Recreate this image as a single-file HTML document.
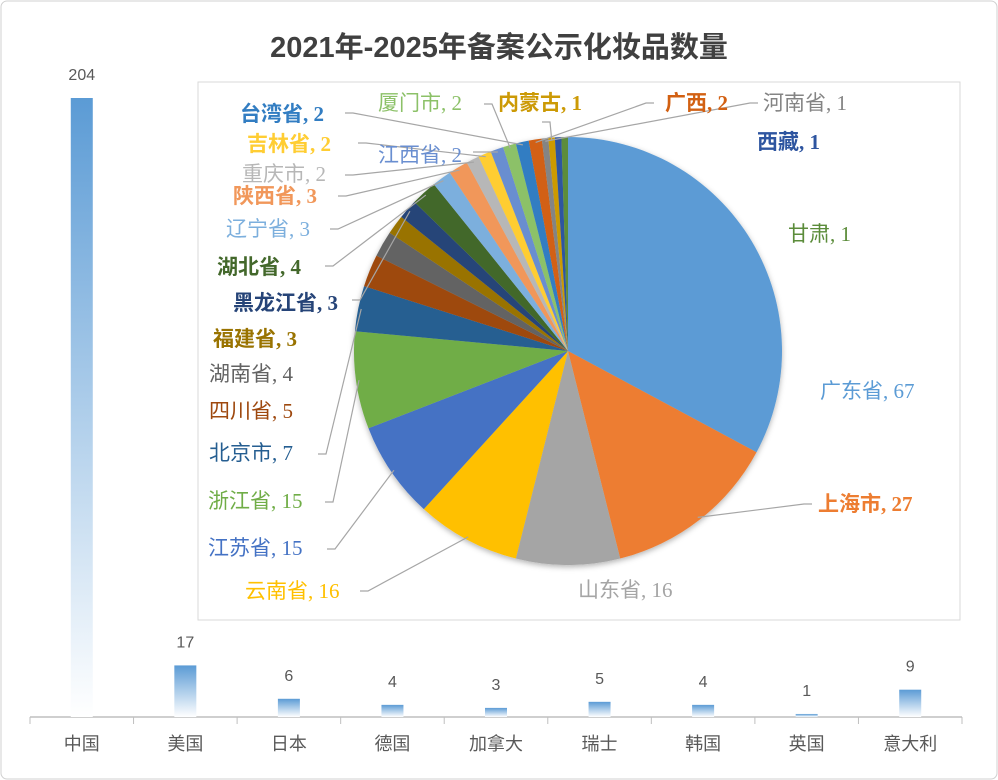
<!DOCTYPE html>
<html><head><meta charset="utf-8"><style>
body{margin:0;background:#fff;width:998px;height:780px;overflow:hidden}
svg{display:block}
text{font-family:"Liberation Serif","Noto Sans CJK SC",serif}
.cat{font-family:"Liberation Sans","Noto Sans CJK SC",sans-serif;font-size:18px;fill:#595959}
.val{font-family:"Liberation Sans","Noto Sans CJK SC",sans-serif;font-size:16px;fill:#595959}
</style></head><body>
<svg id="chart" width="998" height="780" xmlns="http://www.w3.org/2000/svg">
<defs>
<linearGradient id="bg" x1="0" y1="0" x2="0" y2="1"><stop offset="0" stop-color="#5B9BD5"/><stop offset="1" stop-color="#ffffff"/></linearGradient>
<filter id="sh" x="-10%" y="-10%" width="120%" height="120%"><feDropShadow dx="0" dy="2" stdDeviation="3" flood-color="#000" flood-opacity="0.3"/></filter>
</defs>
<rect x="1" y="1" width="996" height="778" rx="6" fill="#fff" stroke="#d0d0d0"/>
<text x="499" y="57" text-anchor="middle" style="font-family:'Liberation Sans','Noto Sans CJK SC',sans-serif;font-size:29px;font-weight:bold;fill:#404040">2021年-2025年备案公示化妆品数量</text>
<rect x="198" y="82" width="762" height="538" fill="#fff" stroke="#d9d9d9"/>
<g id="bars"></g>
<g id="pie" filter="url(#sh)"></g>
<g id="leaders"></g>
<g id="plabels"></g>
</svg>
<script>
const countries=["中国","美国","日本","德国","加拿大","瑞士","韩国","英国","意大利"];
const countryValues=[204,17,6,4,3,5,4,1,9];
const regions=["广东省","上海市","山东省","云南省","江苏省","浙江省","北京市","四川省","湖南省","福建省","黑龙江省","湖北省","辽宁省","陕西省","重庆市","吉林省","江西省","厦门市","台湾省","广西","河南省","内蒙古","西藏","甘肃"];
const regionValues=[67,27,16,16,15,15,7,5,4,3,3,4,3,3,2,2,2,2,2,2,1,1,1,1];
const colors=["#5B9BD5","#ED7D31","#A5A5A5","#FFC000","#4472C4","#70AD47","#255E91","#9E480E","#636363","#997300","#264478","#43682B","#7CAFDD","#F1975A","#B7B7B7","#FFCD33","#698ED0","#8CC168","#327DC2","#D26012","#848484","#CC9A06","#2E55A0","#5B8C3A"];
const NS="http://www.w3.org/2000/svg";
function mk(t,a,p){const e=document.createElementNS(NS,t);for(const k in a)e.setAttribute(k,a[k]);p.appendChild(e);return e;}
const x0=30,x1=962,axisY=717,pxPer=619/204;
const bw=(x1-x0)/countries.length;
const xs=i=>x0+bw*(i+0.5);
const ys=v=>axisY-v*pxPer;
const bars=document.getElementById('bars');
const ax=mk('line',{x1:x0,x2:x1,y1:axisY,y2:axisY,stroke:'#bfbfbf','stroke-width':1.5},bars);


for(let i=0;i<=countries.length;i++){const t=mk('line',{x1:x0+bw*i,x2:x0+bw*i,y1:axisY,y2:axisY+7,stroke:'#bfbfbf'},bars);

}
countries.forEach((c,i)=>{
 const v=countryValues[i];
 const r=mk('rect',{x:xs(i)-11,y:ys(v),width:22,height:axisY-ys(v),fill:'url(#bg)'},bars);
 
 
 const l=mk('text',{x:xs(i),y:ys(v)-18,'text-anchor':'middle',class:'val'},bars);l.textContent=v;
 
 
 const cl=mk('text',{x:xs(i),y:750,'text-anchor':'middle',class:'cat'},bars);cl.textContent=c;
 
 
});
const cx=568,cy=351,R=214;
const total=regionValues.reduce((a,b)=>a+b,0);
const pie=document.getElementById('pie');
const mids=[];
let a=0;
regionValues.forEach((v,i)=>{
 const a0=a,a1=a+v/total*2*Math.PI;a=a1;mids.push((a0+a1)/2);
 const p=(t)=>[cx+R*Math.sin(t),cy-R*Math.cos(t)];
 const [sx,sy]=p(a0),[ex,ey]=p(a1);
 const s=mk('path',{d:`M${cx},${cy}L${sx},${sy}A${R},${R} 0 ${a1-a0>Math.PI?1:0} 1 ${ex},${ey}Z`,fill:colors[i]},pie);
 
 
});
const layout={
"广东省":[820,398,0,0],"上海市":[818,511,0,1,812,504],"山东省":[578,597,0,0],"云南省":[245,598,0,0,360,591],
"江苏省":[208,555,0,0,327,549],"浙江省":[208,508,0,0,325,502],"北京市":[209,460,0,0,318,454],
"四川省":[209,418,0,0],"湖南省":[209,381,0,0],"福建省":[213,346,0,1],"黑龙江省":[233,310,0,1,352,300],
"湖北省":[217,274,0,1,325,266],"辽宁省":[226,236,0,0,330,229],"陕西省":[233,203,0,1,338,196],
"重庆市":[242,181,0,0,345,175],"吉林省":[247,151,0,1,358,143],"江西省":[378,162,0,0,473,152],
"厦门市":[378,110,0,0,484,104],"台湾省":[240,121,0,1,345,113],"广西":[665,110,0,1,654,103],
"河南省":[763,110,0,0,758,103],"内蒙古":[498,110,0,1,542,122],"西藏":[757,149,0,1],"甘肃":[788,241,0,0]};
const lab=document.getElementById('plabels'),lead=document.getElementById('leaders');
regions.forEach((n,i)=>{
 const L=layout[n];
 const t=mk('text',{x:L[0],y:L[1],fill:colors[i],'font-size':21,'font-weight':L[3]?'bold':'normal'},lab);
 t.textContent=n+', '+regionValues[i];
 
 
 if(L.length>4){
  const m=mids[i],ex=cx+(R-3)*Math.sin(m),ey=cy-(R-3)*Math.cos(m);
  const dir=L[4]<cx?1:-1;
  const ln=mk('polyline',{points:`${L[4]},${L[5]} ${L[4]+8*dir},${L[5]} ${ex},${ey}`,fill:'none',stroke:'#a6a6a6','stroke-width':1.2},lead);
  
  
 }
});
</script>
</body></html>
